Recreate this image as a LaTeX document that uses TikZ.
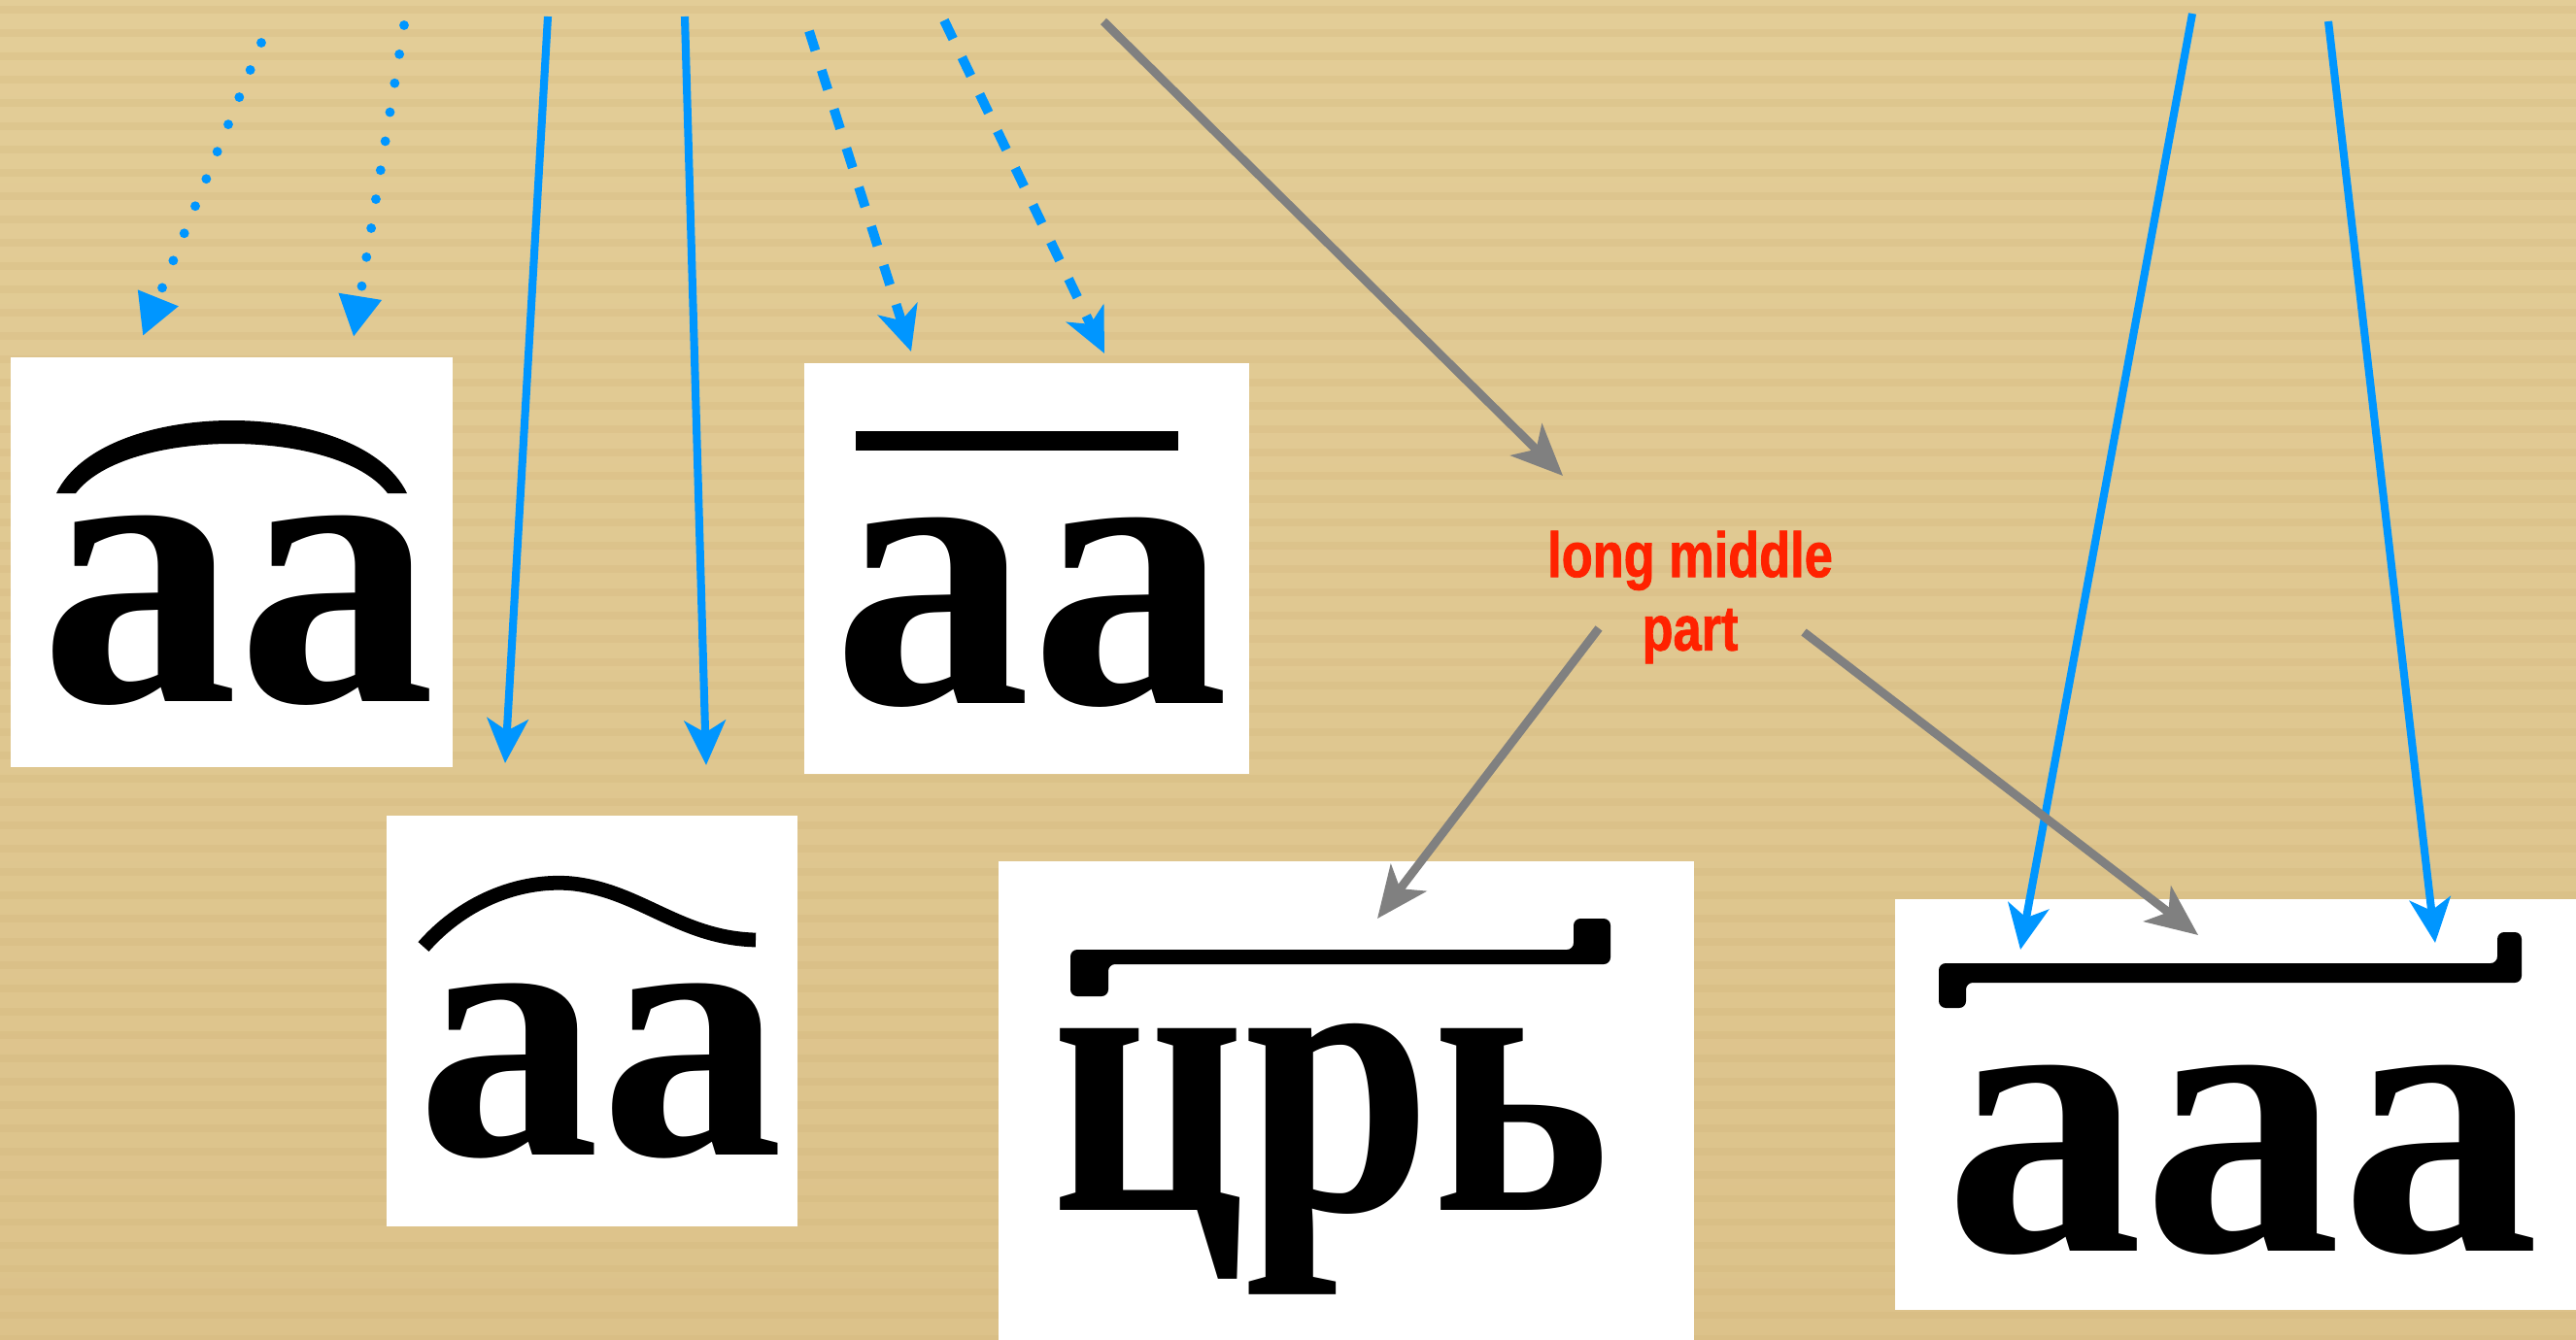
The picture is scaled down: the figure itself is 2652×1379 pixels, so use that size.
\documentclass[tikz,border=0pt]{standalone}
\usepackage{fontspec}
\usetikzlibrary{arrows.meta}
\newfontfamily\slavfont{Liberation Serif}
\newfontfamily\notefont{Liberation Sans}[FakeStretch=0.8,FakeBold=1.2]
\definecolor{BoardTop}{HTML}{E3CD97}
\definecolor{BoardLow}{HTML}{DCC28A}
\definecolor{BoardRib}{HTML}{CFB176}
\definecolor{MarkBlue}{HTML}{0096FF}
\definecolor{MarkGray}{HTML}{808080}
\definecolor{NoteRed}{HTML}{FF2200}

\begin{document}
\begin{tikzpicture}[x=0.01cm,y=-0.01cm]
\tikzset{card/.style={fill=white,inner sep=0pt,anchor=north west},glyph/.style={anchor=base,inner sep=0pt,font=\slavfont\bfseries\fontsize{116}{116}\selectfont},
bluearr/.style={-{Stealth[length=13pt,width=12pt,inset=3.5pt]},MarkBlue,line width=2.3pt},dasharr/.style={bluearr,line width=2.8pt,dash pattern=on 6pt off 6pt},dotarr/.style={-{Triangle[length=12pt,width=12pt]},MarkBlue,line width=2.8pt,line cap=round,dash pattern=on 0pt off 8.6pt},grayarr/.style={-{Stealth[length=15pt,width=13pt,inset=4pt]},MarkGray,line width=2.5pt}}
% board
\useasboundingbox (0,0) rectangle (2652,1379);
\fill[top color=BoardTop,bottom color=BoardLow] (0,0) rectangle (2652,1379);
\foreach \y in {10,34,...,1379} \draw[BoardRib,opacity=.22,line width=2pt] (0,\y) -- (2652,\y);
% cards
\node[card,minimum width=4.55cm,minimum height=4.22cm] (arcbox) at (10,367) {};
\node[card,minimum width=4.23cm,minimum height=4.23cm] (tildebox) at (397,839) {};
\node[card,minimum width=4.58cm,minimum height=4.23cm] (barbox) at (827,373) {};
\node[card,minimum width=7.16cm,minimum height=4.93cm] (crbox) at (1027,886) {};
\node[card,minimum width=7.02cm,minimum height=4.23cm] (longbox) at (1950,925) {};
\node[glyph] (g1) at (245,722) {аа};
\node[glyph,font=\slavfont\bfseries\fontsize{107}{107}\selectfont] (g2) at (618,1189) {аа};
\node[glyph] (g3) at (1061,724) {аа};
\node[glyph] (g4) at (1370,1246) {\scalebox{.85}[1]{црь}};
\node[glyph] (g5) at (2308,1288) {ааа};
% marks over the letters
\fill (58,508) .. controls (106,408) and (371,408) .. (419,508) -- (399,508) .. controls (348,440) and (129,440) .. (78,508) -- cycle;
\draw[line width=4.2pt] (436,975) .. controls (480,925) and (540,905) .. (590,910) .. controls (660,918) and (700,966) .. (778,968);
\fill (881,444) rectangle (1213,464);
\fill[rounded corners=2pt] (1102,1026) -- (1141,1026) -- (1141,993) -- (1658,993) -- (1658,946) -- (1620,946) -- (1620,978) -- (1102,978) -- cycle;
\fill[rounded corners=2pt] (1996,1038) -- (2024,1038) -- (2024,1012) -- (2596,1012) -- (2596,960) -- (2571,960) -- (2571,992) -- (1996,992) -- cycle;
% label
\node[font=\notefont\bfseries\fontsize{18.6}{21.5}\selectfont,text=NoteRed,align=center] (note) at (1740,615) {long middle\\part};
% arrow ends
\coordinate (d1a) at (269,44); \coordinate (d1b) at (147,346);
\coordinate (d2a) at (416,26); \coordinate (d2b) at (364,347);
\coordinate (s1a) at (564,17); \coordinate (s1b) at (520,786);
\coordinate (s2a) at (705,17); \coordinate (s2b) at (727,788);
\coordinate (k1a) at (833,32); \coordinate (k1b) at (938,362);
\coordinate (k2a) at (972,21); \coordinate (k2b) at (1137,364);
\coordinate (s3a) at (2257,14); \coordinate (s3b) at (2080,978);
\coordinate (s4a) at (2397,22); \coordinate (s4b) at (2507,971);
\coordinate (ga) at (1136,22); \coordinate (gb) at (1609,490);
\coordinate (gl) at (1418,946); \coordinate (gr) at (2263,963);
\draw[dotarr](d1a)--(d1b);\draw[dotarr](d2a)--(d2b);
\draw[bluearr](s1a)--(s1b);\draw[bluearr](s2a)--(s2b);
\draw[dasharr](k1a)--(k1b);\draw[dasharr](k2a)--(k2b);
\draw[bluearr](s3a)--(s3b);\draw[bluearr](s4a)--(s4b);
\draw[grayarr](ga)--(gb);
\draw[grayarr]([shift={(-94,32)}]note.center)--(gl);\draw[grayarr]([shift={(117,36)}]note.center)--(gr);
\end{tikzpicture}
\end{document}
